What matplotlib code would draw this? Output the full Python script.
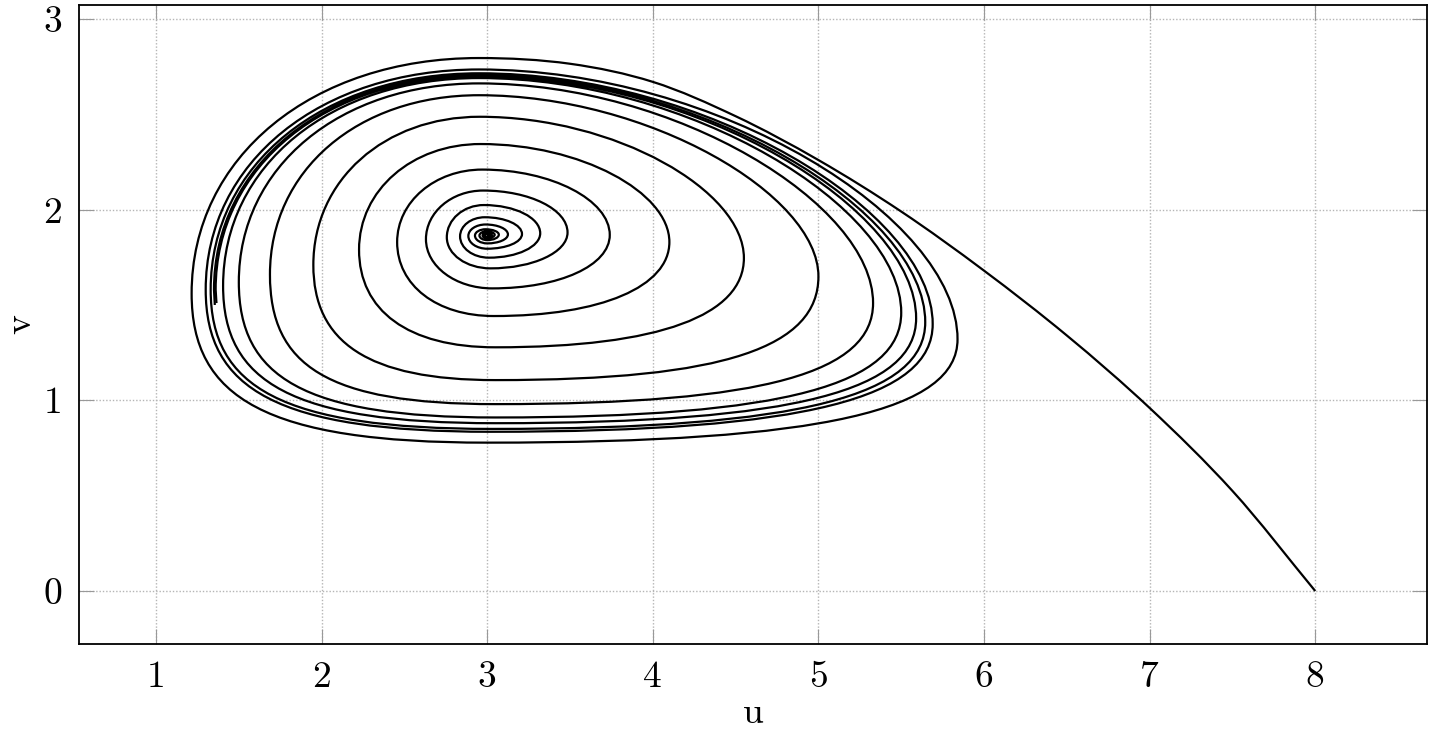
import numpy as np
import matplotlib.pyplot as plt
from matplotlib.path import Path
from matplotlib.patches import PathPatch

plt.rcParams['font.family'] = ['cmr10', 'DejaVu Serif']
plt.rcParams['axes.formatter.use_mathtext'] = True

# turning points of the trajectory that starts next to the equilibrium
# (order: bottom, then right, top, left, bottom, ... ; last value = end point)
inner_u = [3.0,
           3.015, 2.999, 2.985, 3.0,
           3.028, 2.997, 2.972, 3.0,
           3.045, 2.995, 2.953, 3.0,
           3.07, 2.99, 2.926, 3.0,
           3.125, 2.99, 2.886, 3.0,
           3.21, 2.985, 2.836, 3.01,
           3.32, 2.98, 2.756, 3.02,
           3.485, 2.975, 2.63, 3.03,
           3.74, 2.97, 2.456, 3.04,
           4.10, 2.96, 2.226, 3.05,
           4.55, 2.955, 1.95, 3.05,
           5.0, 2.95, 1.688, 3.05,
           5.33, 2.95, 1.50, 3.05,
           5.50, 2.95, 1.405, 3.05,
           5.59, 2.95, 1.36,
           1.365]
inner_v = [1.860,
           1.866, 1.872, 1.865, 1.857,
           1.867, 1.879, 1.864, 1.851,
           1.868, 1.886, 1.864, 1.840,
           1.869, 1.897, 1.864, 1.823,
           1.87, 1.922, 1.862, 1.795,
           1.872, 1.96, 1.86, 1.748,
           1.876, 2.024, 1.855, 1.692,
           1.88, 2.10, 1.845, 1.587,
           1.867, 2.21, 1.83, 1.442,
           1.83, 2.344, 1.79, 1.278,
           1.746, 2.487, 1.71, 1.106,
           1.65, 2.60, 1.66, 0.98,
           1.51, 2.662, 1.62, 0.91,
           1.46, 2.69, 1.60, 0.88,
           1.43, 2.70, 1.58,
           1.51]

# trajectory that starts at (8, 0): first the run up to the top ...
tail_u = [8.0, 7.5, 7.0, 6.5, 6.0, 5.5, 5.0, 4.5, 4.0, 3.5, 2.95]
tail_v = [0.0, 0.525, 0.96, 1.34, 1.68, 1.99, 2.26, 2.49, 2.67, 2.765, 2.795]
# ... then its turning points (top, left, bottom, right, ... ; last = end point)
outer_u = [2.95, 1.215, 3.0, 5.84, 2.95, 1.30, 3.02, 5.69,
           2.95, 1.33, 3.03, 5.645, 2.95, 1.35, 1.355]
outer_v = [2.795, 1.56, 0.778, 1.32, 2.735, 1.58, 0.835, 1.40,
           2.715, 1.58, 0.85, 1.41, 2.705, 1.58, 1.50]

xticks = [1, 2, 3, 4, 5, 6, 7, 8]
yticks = [0, 1, 2, 3]

# curve shape between turning points: (kappa at start, kappa at end) for
# small nearly elliptic loops and for the large lopsided loops
K_SMALL = (0.552, 0.552)
K_BIG = {0: (0.45, 0.50), 1: (0.58, 0.58), 2: (0.70, 0.75), 3: (0.72, 0.68)}
SPAN = {0: (0.5, 2.0), 1: (0.4, 1.2), 2: (0.4, 1.3), 3: (0.5, 2.0)}


def quarter(a, b, kind):
    # kind 0: right->top, 1: top->left, 2: left->bottom, 3: bottom->right
    du = abs(b[0] - a[0])
    lo, hi = SPAN[kind]
    s = min(max((du - lo) / (hi - lo), 0.0), 1.0)
    k1 = K_SMALL[0] + s * (K_BIG[kind][0] - K_SMALL[0])
    k2 = K_SMALL[1] + s * (K_BIG[kind][1] - K_SMALL[1])
    if kind in (0, 2):   # leaves vertically, arrives horizontally
        c1 = (a[0], a[1] + k1 * (b[1] - a[1]))
        c2 = (b[0] + k2 * (a[0] - b[0]), b[1])
    else:                # leaves horizontally, arrives vertically
        c1 = (a[0] + k1 * (b[0] - a[0]), a[1])
        c2 = (b[0], b[1] + k2 * (a[1] - b[1]))
    return [c1, c2, b]


def spiral(u, v, first_kind, verts, codes):
    pts = list(zip(u, v))
    if not verts:
        verts.append(pts[0])
        codes.append(Path.MOVETO)
    kind = first_kind
    for a, b in zip(pts[:-2], pts[1:-1]):
        verts += quarter(a, b, kind)
        codes += [Path.CURVE4] * 3
        kind = (kind + 1) % 4
    verts.append(pts[-1])
    codes.append(Path.LINETO)


def smooth_run(u, v, verts, codes, aspect=1.15):
    # centripetal Catmull-Rom through the points, ending horizontally
    p = np.column_stack([u, np.asarray(v) * aspect])
    p = np.vstack([2 * p[0] - p[1], p, 2 * p[-1] - p[-2]])
    verts.append(tuple(p[1] * [1, 1 / aspect]))
    codes.append(Path.MOVETO)
    for i in range(1, len(p) - 2):
        p0, p1, p2, p3 = p[i - 1], p[i], p[i + 1], p[i + 2]
        d1, d2, d3 = (np.linalg.norm(p1 - p0), np.linalg.norm(p2 - p1),
                      np.linalg.norm(p3 - p2))
        a1, a2, a3 = np.sqrt(d1), np.sqrt(d2), np.sqrt(d3)
        c1 = (d1 * p2 - d2 * p0 + (2 * d1 + 3 * a1 * a2 + d2) * p1) / (3 * a1 * (a1 + a2))
        c2 = (d3 * p1 - d2 * p3 + (2 * d3 + 3 * a3 * a2 + d2) * p2) / (3 * a3 * (a3 + a2))
        if i == len(p) - 3:
            c2[1] = p2[1]
        for c in (c1, c2, p2):
            verts.append((c[0], c[1] / aspect))
        codes += [Path.CURVE4] * 3


fig = plt.figure(figsize=(14.29, 7.29), dpi=100)
ax = fig.add_axes([0.0553, 0.1166, 0.9433, 0.8765])

v1, c1 = [], []
spiral(inner_u, inner_v, 3, v1, c1)
v2, c2 = [], []
smooth_run(tail_u, tail_v, v2, c2)
spiral(outer_u, outer_v, 1, v2, c2)
for verts, codes in [(v1, c1), (v2, c2)]:
    ax.add_patch(PathPatch(Path(verts, codes), facecolor='none',
                           edgecolor='black', linewidth=1.6,
                           joinstyle='round', capstyle='butt'))

ax.set_xlim(0.535, 8.675)
ax.set_ylim(-0.278, 3.073)
ax.set_xticks(xticks)
ax.set_yticks(yticks)
ax.set_xticklabels([str(t) for t in xticks])
ax.set_yticklabels([str(t) for t in yticks])

ax.grid(True, color='#b5b5b5', linestyle=(0, (1, 1.4)), linewidth=1.0)
ax.set_axisbelow(True)
ax.tick_params(direction='in', length=11, width=0.8, color='#999999',
               top=True, right=True, labelsize=27, pad=12, labelcolor='black')
for s in ax.spines.values():
    s.set_linewidth(1.3)
    s.set_color('black')

ax.set_xlabel('u', fontsize=27, labelpad=2)
ax.set_ylabel('v', fontsize=27)
ax.yaxis.set_label_coords(-0.031, 0.5)

fig.savefig('out.png', dpi=100)
